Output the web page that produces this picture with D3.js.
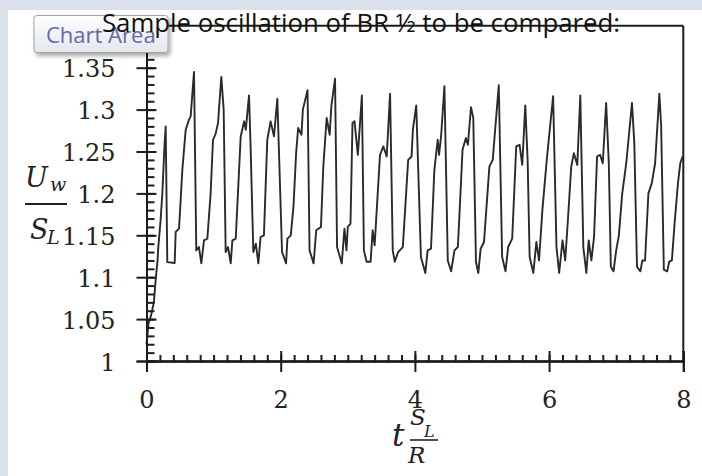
<!DOCTYPE html>
<html><head><meta charset="utf-8">
<script src="https://cdn.jsdelivr.net/npm/d3@7"></script>
<style>
html,body{margin:0;padding:0;background:#dae1ed;overflow:hidden;}
svg{display:block;}
</style></head><body>
<svg id="c" width="702" height="476"></svg>
<script>
// ---- data ----
const time = [0,0.03,0.07,0.11,0.14,0.165,0.175,0.21,0.236,0.27,0.286,0.31,0.42,0.435,0.485,0.534,0.584,0.633,0.658,0.708,
  0.742,0.782,0.817,0.857,0.907,0.956,0.991,1.03,1.066,1.115,1.15,1.18,1.215,1.255,1.28,1.33,1.404,1.455,1.48,1.528,
  1.55,1.592,1.63,1.667,1.7,1.75,1.8,1.85,1.9,1.95,2.02,2.08,2.1,2.15,2.19,2.23,2.26,2.31,2.33,2.40,
  2.43,2.49,2.53,2.6,2.635,2.685,2.73,2.755,2.81,2.84,2.91,2.95,2.98,3.0,3.04,3.07,3.1,3.15,3.21,3.24,
  3.28,3.34,3.37,3.4,3.48,3.53,3.58,3.63,3.67,3.70,3.75,3.82,3.90,3.95,3.97,4.02,4.09,4.155,4.19,4.24,
  4.29,4.34,4.36,4.39,4.44,4.49,4.54,4.59,4.64,4.66,4.71,4.76,4.79,4.836,4.87,4.91,4.945,4.98,5.03,5.11,
  5.16,5.2,5.25,5.30,5.35,5.39,5.45,5.51,5.56,5.6,5.645,5.68,5.71,5.765,5.81,5.85,5.90,5.965,6.0,6.06,
  6.11,6.15,6.2,6.24,6.28,6.33,6.37,6.42,6.465,6.51,6.555,6.59,6.63,6.67,6.715,6.76,6.8,6.85,6.89,6.92,
  6.96,7.0,7.04,7.09,7.15,7.235,7.27,7.31,7.36,7.39,7.43,7.48,7.53,7.58,7.643,7.67,7.71,7.76,7.79,7.83,
  7.87,7.92,7.955,7.99];
const ratio = [1.02,1.045,1.055,1.07,1.1,1.12,1.135,1.168,1.2,1.26,1.28,1.118,1.117,1.154,1.158,1.228,1.276,1.288,1.292,1.345,
  1.132,1.136,1.1165,1.144,1.146,1.2,1.264,1.271,1.284,1.339,1.3,1.13,1.136,1.1165,1.144,1.146,1.268,1.286,1.276,1.317,
  1.26,1.13,1.14,1.1165,1.148,1.15,1.264,1.286,1.268,1.313,1.13,1.1165,1.146,1.15,1.184,1.248,1.278,1.27,1.30,1.323,
  1.132,1.1165,1.156,1.16,1.232,1.29,1.27,1.304,1.337,1.136,1.1165,1.158,1.132,1.16,1.164,1.284,1.286,1.246,1.317,1.132,
  1.1185,1.1185,1.156,1.138,1.246,1.256,1.244,1.319,1.132,1.1185,1.13,1.136,1.24,1.244,1.276,1.305,1.124,1.105,1.132,1.134,
  1.228,1.264,1.246,1.268,1.328,1.12,1.107,1.132,1.136,1.168,1.252,1.266,1.258,1.303,1.29,1.1185,1.105,1.134,1.142,1.232,
  1.24,1.28,1.329,1.124,1.107,1.136,1.146,1.256,1.258,1.234,1.305,1.24,1.124,1.105,1.142,1.12,1.18,1.24,1.268,1.316,
  1.136,1.105,1.144,1.12,1.168,1.232,1.248,1.234,1.317,1.136,1.105,1.144,1.12,1.148,1.244,1.246,1.236,1.308,1.236,1.1125,
  1.107,1.132,1.15,1.2,1.236,1.308,1.26,1.1125,1.107,1.12,1.12,1.2,1.212,1.236,1.319,1.28,1.109,1.107,1.1185,1.12,
  1.164,1.212,1.236,1.244];
const xTicks = [0,2,4,6,8];
const xTickLabels = ["0","2","4","6","8"];
const xMinorTicks = d3.range(0, 8.0001, 0.2);
const yTicks = [1,1.05,1.1,1.15,1.2,1.25,1.3,1.35];
const yTickLabels = ["1","1.05","1.1","1.15","1.2","1.25","1.3","1.35"];
const yMinorTicks = d3.range(1, 1.40001, 0.01);
const titleText = "Sample oscillation of BR \u00BD to be compared:";
const tooltipText = "Chart Area";

// ---- drawing ----
const svg = d3.select("#c");
svg.append("rect").attr("x",8).attr("y",10).attr("width",694).attr("height",466).attr("fill","#ffffff");

const x = d3.scaleLinear().domain([0,8]).range([146.5,683.3]);
const y = d3.scaleLinear().domain([1,1.4]).range([361,25.8]);
const ink = "#1c1c1c";

const g = svg.append("g");

// data line
const line = d3.line().x((d,i)=>x(time[i])).y((d,i)=>y(ratio[i]));
g.append("path").datum(ratio).attr("d", line)
  .attr("fill","none").attr("stroke","#2a2a2a").attr("stroke-width",1.9).attr("stroke-linejoin","round");

// frame: top and right
g.append("line").attr("x1",x(0)).attr("x2",x(8)).attr("y1",y(1.4)).attr("y2",y(1.4)).attr("stroke",ink).attr("stroke-width",2);
g.append("line").attr("x1",x(8)).attr("x2",x(8)).attr("y1",y(1.4)).attr("y2",y(1)).attr("stroke",ink).attr("stroke-width",2);

// y axis
const yMinor = d3.axisRight(y).tickValues(yMinorTicks).tickSize(8).tickFormat("");
const yMajIn = d3.axisRight(y).tickValues(yTicks).tickSize(10).tickFormat("");
const yMajOut = d3.axisLeft(y).tickValues(yTicks).tickSize(10).tickPadding(21)
  .tickFormat((d,i)=>yTickLabels[i]);
[yMinor,yMajIn,yMajOut].forEach(ax=>{
  const a = g.append("g").attr("transform",`translate(${x(0)},0)`).call(ax);
  a.select(".domain").attr("stroke",ink).attr("stroke-width",2);
  a.selectAll(".tick line").attr("stroke",ink).attr("stroke-width",2);
});
g.selectAll("text").filter(function(){return this.textContent;})
  .attr("font-family","'DejaVu Serif', serif").attr("font-size",24).attr("fill","#222").attr("dy","0.38em");

// x axis
const xMinor = d3.axisTop(x).tickValues(xMinorTicks).tickSize(6).tickFormat("");
const xMajIn = d3.axisTop(x).tickValues(xTicks).tickSize(10).tickFormat("");
const xMajOut = d3.axisBottom(x).tickValues(xTicks).tickSize(11).tickPadding(19)
  .tickFormat((d,i)=>xTickLabels[i]);
[xMinor,xMajIn,xMajOut].forEach(ax=>{
  const a = g.append("g").attr("transform",`translate(0,${y(1)})`).call(ax);
  a.select(".domain").attr("stroke",ink).attr("stroke-width",2);
  a.selectAll(".tick line").attr("stroke",ink).attr("stroke-width",2);
  a.selectAll("text").attr("font-family","'DejaVu Serif', serif").attr("font-size",24).attr("fill","#222");
});
g.selectAll(".domain").attr("fill","none");

// axis labels (math)
const mf = "'DejaVu Serif', serif";
const yl = g.append("g").attr("font-family",mf).attr("font-style","italic").attr("fill","#222");
yl.append("text").attr("x",25).attr("y",187).attr("font-size",27).text("U");
yl.append("text").attr("x",50).attr("y",191).attr("font-size",19).text("w");
yl.append("line").attr("x1",25).attr("x2",67).attr("y1",204).attr("y2",204).attr("stroke","#222").attr("stroke-width",2);
yl.append("text").attr("x",30).attr("y",239).attr("font-size",27).text("S");
yl.append("text").attr("x",47).attr("y",244).attr("font-size",19).text("L");

const xl = g.append("g").attr("font-family",mf).attr("font-style","italic").attr("fill","#222");
xl.append("text").attr("x",392).attr("y",446).attr("font-size",31).text("t");
xl.append("text").attr("x",410).attr("y",425).attr("font-size",23).text("S");
xl.append("text").attr("x",424).attr("y",437).attr("font-size",16).text("L");
xl.append("line").attr("x1",410).attr("x2",438).attr("y1",440).attr("y2",440).attr("stroke","#222").attr("stroke-width",1.6);
xl.append("text").attr("x",408).attr("y",463).attr("font-size",23).text("R");

// tooltip "Chart Area"
const defs = svg.append("defs");
const grad = defs.append("linearGradient").attr("id","tg").attr("x1",0).attr("y1",0).attr("x2",0).attr("y2",1);
grad.append("stop").attr("offset","0%").attr("stop-color","#ffffff");
grad.append("stop").attr("offset","100%").attr("stop-color","#e3e7ee");
const flt = defs.append("filter").attr("id","sh").attr("x","-20%").attr("y","-20%").attr("width","150%").attr("height","180%");
flt.append("feGaussianBlur").attr("in","SourceAlpha").attr("stdDeviation",2);
flt.append("feOffset").attr("dx",2).attr("dy",3).attr("result","ob");
flt.append("feComponentTransfer").append("feFuncA").attr("type","linear").attr("slope",0.35);
const fm = flt.append("feMerge"); fm.append("feMergeNode"); fm.append("feMergeNode").attr("in","SourceGraphic");
svg.append("rect").attr("x",34).attr("y",15.5).attr("width",134).attr("height",37).attr("rx",3)
  .attr("fill","url(#tg)").attr("stroke","#a3a3a3").attr("stroke-width",1).attr("filter","url(#sh)");
svg.append("text").attr("x",46).attr("y",43).attr("font-family","'Open Sans', sans-serif").attr("font-size",22)
  .attr("fill","#6468a8").text(tooltipText);

// title
svg.append("text").attr("x",361).attr("y",32).attr("text-anchor","middle")
  .attr("font-family","'Open Sans', sans-serif").attr("font-size",25.8).attr("fill","#111").text(titleText);
</script>
</body></html>
